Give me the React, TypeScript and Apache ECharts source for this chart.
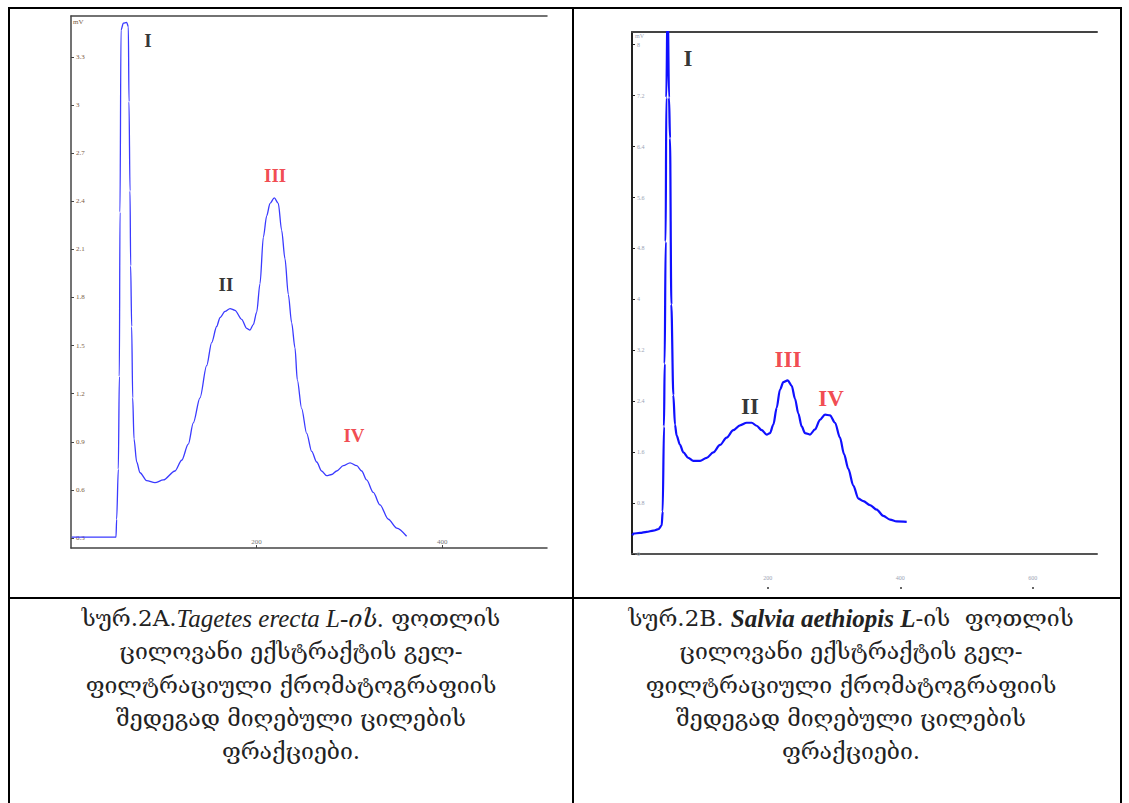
import React, { useEffect, useRef } from "react";
import * as echarts from "echarts";

// ---- Chart A (Tagetes erecta) ----
const leftTime = [0.7, 48.5, 49.2, 51.0, 52.1, 52.8, 53.9, 56.4, 60.0, 61.8, 62.5, 63.6, 64.3, 65.4, 66.5, 67.9, 70.8, 74.4, 81.5, 90.5, 99.5, 112.1, 119.3, 126.4, 131.8, 139.0, 146.2, 151.6, 157.0, 160.6, 166.0, 171.4, 176.7, 183.9, 189.3, 192.9, 196.5, 200.1, 203.7, 207.3, 210.9, 214.5, 219.1, 223.4, 227.0, 230.6, 234.2, 237.8, 241.4, 243.9, 248.6, 254.0, 259.4, 264.8, 270.1, 275.5, 280.9, 286.3, 293.5, 300.7, 307.9, 313.3, 318.6, 325.8, 333.0, 342.0, 351.0, 361.7];
const leftSignal = [0.306, 0.306, 0.417, 0.729, 1.308, 2.332, 3.467, 3.511, 3.516, 3.489, 3.022, 2.465, 1.998, 1.619, 1.174, 0.918, 0.774, 0.707, 0.658, 0.645, 0.662, 0.718, 0.785, 0.885, 1.018, 1.174, 1.375, 1.519, 1.619, 1.675, 1.713, 1.731, 1.720, 1.664, 1.608, 1.597, 1.631, 1.708, 1.887, 2.176, 2.309, 2.387, 2.421, 2.387, 2.220, 2.042, 1.820, 1.642, 1.486, 1.286, 1.107, 0.952, 0.840, 0.774, 0.718, 0.689, 0.696, 0.718, 0.751, 0.769, 0.751, 0.718, 0.662, 0.584, 0.506, 0.417, 0.362, 0.311];
const leftYTicks = [0.3, 0.6, 0.9, 1.2, 1.5, 1.8, 2.1, 2.4, 2.7, 3, 3.3];
const leftXTicks = [200, 400];
const leftPeakNames = ["I", "II", "III", "IV"];
const leftPeakX = [83, 167, 220, 305];
const leftPeakY = [3.4, 1.88, 2.56, 0.94];

// ---- Chart B (Salvia aethiopis) ----
const rightTime = [-4.5, -3.0, 7.1, 17.1, 27.2, 34.8, 39.8, 41.3, 43.3, 44.3, 45.8, 46.8, 48.8, 50.9, 52.4, 54.4, 57.4, 59.9, 62.4, 67.5, 72.5, 80.0, 87.6, 97.7, 107.7, 117.8, 127.9, 137.9, 148.0, 158.1, 168.1, 175.7, 183.2, 190.8, 198.3, 203.3, 208.4, 213.4, 218.4, 223.5, 230.0, 236.1, 241.1, 246.1, 251.2, 256.2, 263.7, 271.3, 278.8, 286.4, 293.9, 301.5, 309.0, 315.1, 321.6, 329.1, 336.7, 344.2, 354.3, 364.4, 374.4, 384.5, 394.6, 409.7];
const rightSignal = [0.291, 0.320, 0.332, 0.349, 0.367, 0.390, 0.448, 0.668, 2.004, 2.990, 4.906, 7.170, 8.8, 7.170, 6.531, 3.919, 2.497, 2.033, 1.858, 1.713, 1.597, 1.510, 1.464, 1.464, 1.510, 1.597, 1.713, 1.829, 1.945, 2.021, 2.062, 2.062, 2.015, 1.945, 1.876, 1.899, 2.033, 2.294, 2.584, 2.700, 2.729, 2.642, 2.439, 2.207, 2.004, 1.899, 1.876, 1.957, 2.108, 2.189, 2.178, 2.062, 1.829, 1.568, 1.336, 1.075, 0.871, 0.831, 0.767, 0.697, 0.599, 0.540, 0.511, 0.505];
const rightYTicks = [0, 0.8, 1.6, 2.4, 3.2, 4, 4.8, 5.6, 6.4, 7.2, 8];
const rightXTicks = [200, 400, 600];
const rightPeakNames = ["I", "II", "III", "IV"];
const rightPeakX = [79.5, 173, 230.5, 295.4];
const rightPeakY = [7.79, 2.31, 3.05, 2.44];

const peakColors = ["#000000", "#000000", "#ee1c25", "#ee1c25"];

// ---- captions ----
const captionA = [
  ["სურ.2A.", "Tagetes erecta L-ის.", " ფოთლის"],
  ["ცილოვანი ექსტრაქტის გელ-"],
  ["ფილტრაციული ქრომატოგრაფიის"],
  ["შედეგად მიღებული ცილების"],
  ["ფრაქციები."],
];
const captionB = [
  ["სურ.2B. ", "Salvia aethiopis L", "-ის  ფოთლის"],
  ["ცილოვანი ექსტრაქტის გელ-"],
  ["ფილტრაციული ქრომატოგრაფიის"],
  ["შედეგად მიღებული ცილების"],
  ["ფრაქციები."],
];

const SERIF = "'Liberation Serif', 'DejaVu Serif', serif";
const GEO = "'DejaVu Serif', 'DejaVu Sans', serif";

function zip(a: number[], b: number[]) {
  return a.map((v, i) => [v, b[i]]);
}

function peaks(names: string[], xs: number[], ys: number[], size: number) {
  return names.map((n, i) => ({
    name: n,
    value: [xs[i], ys[i]],
    label: { color: peakColors[i], fontSize: size },
  }));
}

function captionGraphics(lines: string[][], cx: number, y0: number, bold: boolean) {
  return lines.map((parts, i) => {
    let text = "";
    if (parts.length === 3) {
      text = parts[0] + "{i|" + parts[1] + "}" + parts[2];
    } else {
      text = parts[0];
    }
    return {
      type: "text",
      x: cx,
      y: y0 + i * 33.3,
      style: {
        text,
        align: "center",
        verticalAlign: "middle",
        fontSize: 23,
        fontFamily: GEO,
        fill: "#222",
        rich: {
          i: {
            fontStyle: "italic",
            fontWeight: bold ? "bold" : "normal",
            fontSize: 25,
            fontFamily: SERIF,
            color: "#222",
          },
        },
      },
    };
  });
}

export default function App() {
  const ref = useRef<HTMLDivElement>(null);
  useEffect(() => {
    if (!ref.current) return;
    const chart = echarts.init(ref.current, undefined, { renderer: "svg" });
    const frameA = { color: "#444", width: 1.5 };
    const frameB = { color: "#222", width: 2 };
    const option: any = {
      animation: false,
      backgroundColor: "#fff",
      grid: [
        { left: 71, top: 16, width: 476, height: 532 },
        { left: 632, top: 32, width: 465, height: 522 },
      ],
      xAxis: [
        {
          gridIndex: 0, type: "value", min: 0, max: 513, position: "bottom",
          axisLine: { show: true, onZero: false, lineStyle: frameA },
          axisTick: { show: true, inside: true, length: 3, customValues: leftXTicks, lineStyle: { color: "#444" } },
          axisLabel: { inside: true, margin: 3, customValues: leftXTicks, fontSize: 7, color: "#777", fontFamily: SERIF },
          splitLine: { show: false },
        },
        {
          gridIndex: 0, type: "value", min: 0, max: 513, position: "top",
          axisLine: { show: true, onZero: false, lineStyle: frameA },
          axisTick: { show: false }, axisLabel: { show: false }, splitLine: { show: false },
        },
        {
          gridIndex: 1, type: "value", min: -5, max: 697, position: "bottom",
          axisLine: { show: true, onZero: false, lineStyle: { color: "#555", width: 2 } },
          axisTick: { show: false }, axisLabel: { show: false }, splitLine: { show: false },
        },
        {
          gridIndex: 1, type: "value", min: -5, max: 697, position: "top",
          axisLine: { show: true, onZero: false, lineStyle: { color: "#444", width: 2 } },
          axisTick: { show: false }, axisLabel: { show: false }, splitLine: { show: false },
        },
        {
          gridIndex: 1, type: "value", min: -5, max: 697, position: "bottom", offset: 35,
          axisLine: { show: false, onZero: false },
          axisTick: { show: true, inside: true, length: 2, customValues: rightXTicks, lineStyle: { color: "#333", width: 1.5 } },
          axisLabel: { inside: true, margin: 8, customValues: rightXTicks, fontSize: 6, color: "#9aa3b5", fontFamily: SERIF },
          splitLine: { show: false },
        },
      ],
      yAxis: [
        {
          gridIndex: 0, type: "value", min: 0.2376, max: 3.5557,
          axisLine: { show: true, onZero: false, lineStyle: frameA },
          axisTick: { show: true, inside: true, length: 3, customValues: leftYTicks, lineStyle: { color: "#444" } },
          axisLabel: { inside: true, margin: 5, customValues: leftYTicks, fontSize: 7, color: "#7b5c45", fontFamily: SERIF },
          splitLine: { show: false },
        },
        {
          gridIndex: 1, type: "value", min: 0, max: 8.2,
          axisLine: { show: true, onZero: false, lineStyle: frameB },
          axisTick: { show: true, inside: true, length: 3, customValues: rightYTicks, lineStyle: { color: "#222" } },
          axisLabel: { inside: true, margin: 5, customValues: rightYTicks, fontSize: 6, color: "#9aa3b5", fontFamily: SERIF },
          splitLine: { show: false },
        },
      ],
      series: [
        {
          type: "line", xAxisIndex: 0, yAxisIndex: 0, data: zip(leftTime, leftSignal),
          showSymbol: false, smooth: 0.3, smoothMonotone: "x",
          lineStyle: { color: "#3a3aff", width: 1.3 },
        },
        {
          type: "scatter", xAxisIndex: 0, yAxisIndex: 0, symbolSize: 0,
          data: peaks(leftPeakNames, leftPeakX, leftPeakY, 19),
          label: { show: true, position: "inside", formatter: "{b}", fontFamily: SERIF, fontWeight: "bold" },
        },
        {
          type: "line", xAxisIndex: 2, yAxisIndex: 1, data: zip(rightTime, rightSignal),
          showSymbol: false, smooth: 0.3, smoothMonotone: "x",
          lineStyle: { color: "#1010ff", width: 2.2 },
        },
        {
          type: "scatter", xAxisIndex: 2, yAxisIndex: 1, symbolSize: 0,
          data: peaks(rightPeakNames, rightPeakX, rightPeakY, 23),
          label: { show: true, position: "inside", formatter: "{b}", fontFamily: SERIF, fontWeight: "bold" },
        },
      ],
      graphic: [
        { type: "text", x: 73, y: 22, style: { text: "mV", fontSize: 7, fontFamily: SERIF, fill: "#7b5c45", verticalAlign: "middle" } },
        { type: "text", x: 635, y: 36, style: { text: "mV", fontSize: 6, fontFamily: SERIF, fill: "#9aa3b5", verticalAlign: "middle" } },
        // table borders
        { type: "line", shape: { x1: 9, y1: 8, x2: 1122, y2: 8 }, style: { stroke: "#000", lineWidth: 2 } },
        { type: "line", shape: { x1: 9, y1: 598, x2: 1122, y2: 598 }, style: { stroke: "#000", lineWidth: 2 } },
        { type: "line", shape: { x1: 9, y1: 7, x2: 9, y2: 803 }, style: { stroke: "#000", lineWidth: 2 } },
        { type: "line", shape: { x1: 573, y1: 7, x2: 573, y2: 803 }, style: { stroke: "#000", lineWidth: 2 } },
        { type: "line", shape: { x1: 1121, y1: 7, x2: 1121, y2: 803 }, style: { stroke: "#000", lineWidth: 2 } },
        ...captionGraphics(captionA, 291, 618, false),
        ...captionGraphics(captionB, 851, 618, true),
      ],
    };
    chart.setOption(option);
    return () => chart.dispose();
  }, []);
  return (
    <div
      ref={ref}
      style={{ position: "fixed", left: 0, top: 0, width: 1129, height: 803, background: "#fff" }}
    />
  );
}
